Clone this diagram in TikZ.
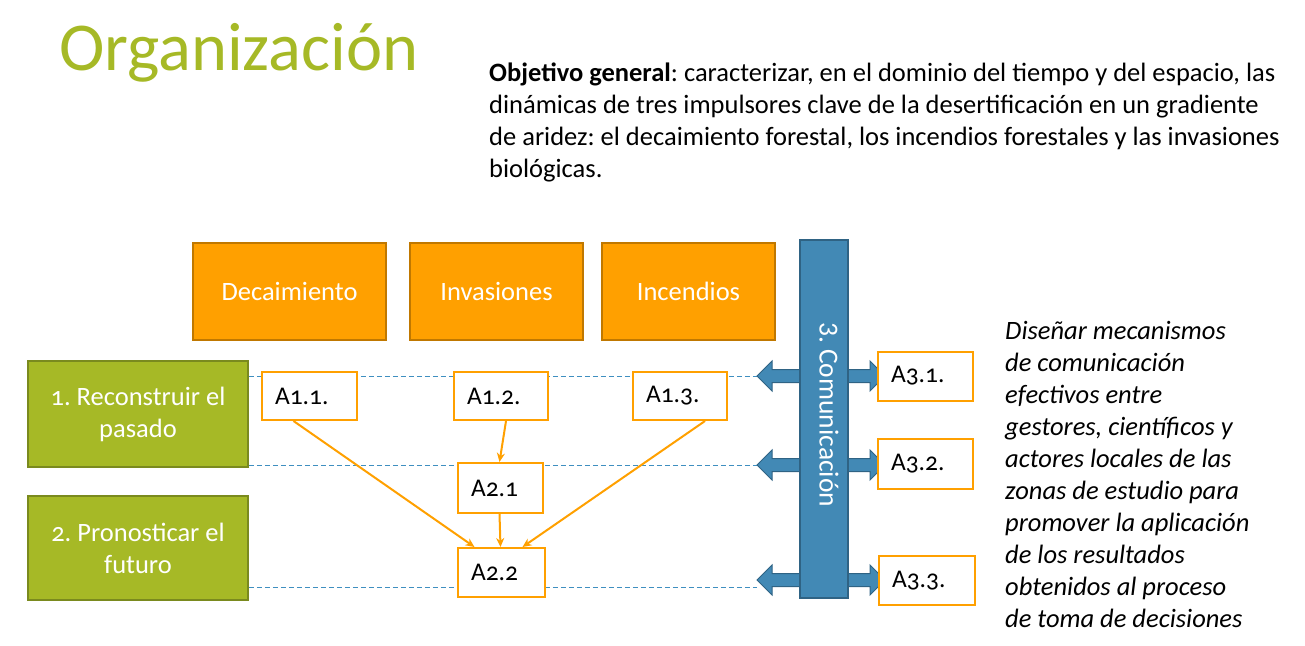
\documentclass[tikz,border=0pt]{standalone}
\usepackage{fontspec}
\setmainfont{Carlito}[Numbers=OldStyle]
\newfontfamily\plainfont{Carlito}
\usetikzlibrary{arrows.meta}
\frenchspacing

\definecolor{titlegreen}{HTML}{A6B926}
\definecolor{boxgreen}{HTML}{A6B926}
\definecolor{boxgreenline}{HTML}{7A8A1E}
\definecolor{boxorange}{HTML}{FFA000}
\definecolor{boxorangeline}{HTML}{C07800}
\definecolor{barblue}{HTML}{4289B5}
\definecolor{barblueline}{HTML}{2F6384}
\definecolor{dashblue}{HTML}{3F8FC0}

\tikzset{
  theme/.style={draw=boxorangeline, fill=boxorange, line width=1.5pt, text=white,
    font=\fontsize{26.5}{30}\selectfont, inner sep=0pt},
  phase/.style={draw=boxgreenline, fill=boxgreen, line width=1.5pt, text=white,
    font=\fontsize{26.5}{32}\selectfont, align=center, inner sep=0pt,
    minimum width=220pt},
  task/.style={draw=boxorange, fill=white, line width=2pt, text=black,
    font=\fontsize{25.5}{28}\selectfont, inner xsep=13pt, inner ysep=0pt,
    align=left, minimum height=48pt},
  flow/.style={draw=boxorange, line width=2pt, -{Stealth[length=9pt,width=8pt]}},
  guide/.style={draw=dashblue, line width=0.8pt, dash pattern=on 5pt off 3pt},
  twoway/.style={draw=barblueline, fill=barblue, line width=1pt},
}

\begin{document}
\begin{tikzpicture}[x=1pt,y=-1pt]
\useasboundingbox (0,0) rectangle (1305,645);

% title and objective (base anchor = baseline of the last line)
\node[anchor=base west, inner sep=0pt, text=titlegreen,
      font=\fontsize{68.5}{75}\selectfont] (title) at (59,70) {Organización};
\node[anchor=base west, inner sep=0pt, align=left,
      font=\fontsize{26.5}{32}\selectfont] (goal) at (489,177)
  {\textbf{Objetivo general}: caracterizar, en el dominio del tiempo y del espacio, las\\
   dinámicas de tres impulsores clave de la desertificación en un gradiente\\
   de aridez: el decaimiento forestal, los incendios forestales y las invasiones\\
   biológicas.};

% themes
\node[theme, minimum width=193pt, minimum height=97pt] (dec) at (289.5,291.5) {Decaimiento};
\node[theme, minimum width=173pt, minimum height=97pt] (inv) at (496.5,291.5) {Invasiones};
\node[theme, minimum width=173pt, minimum height=97pt] (inc) at (688.5,291.5) {Incendios};

% phases
\node[phase, minimum height=106pt] (g1) at (138,414) {1. Reconstruir el\\pasado};
\node[phase, minimum height=104pt] (g2) at (138,548) {2. Pronosticar el\\futuro};

% guide lines towards the communication bar
\coordinate (r1) at (757,376);
\coordinate (r2) at (757,465);
\coordinate (r3) at (757,587);
\draw[guide] (g1.east |- r1) -- (r1);
\draw[guide] (g1.east |- r2) -- (r2);
\draw[guide] (g2.east |- r3) -- (r3);

% two-way arrows through the bar
\foreach \yy in {376,465,580}{
  \draw[twoway] (757,\yy) -- (772,\yy-15) -- (772,\yy-6.5) -- (870,\yy-6.5)
    -- (870,\yy-15) -- (885,\yy) -- (870,\yy+15) -- (870,\yy+6.5)
    -- (772,\yy+6.5) -- (772,\yy+15) -- cycle;
}

% communication bar
\node[draw=barblueline, fill=barblue, line width=1.5pt, minimum width=48pt,
      minimum height=358pt, inner sep=0pt] (bar) at (824,419) {};
\node[rotate=-90, text=white, font=\fontsize{27.5}{30}\selectfont, inner sep=0pt,
      anchor=west] (barlabel) at (829,322) {\plainfont 3. Comunicación};

% tasks
\node[task, minimum width=95pt, text width=69pt] (a11) at (309.5,396) {A1.1.};
\node[task, minimum width=94pt, text width=68pt] (a12) at (501,396) {A1.2.};
\node[task, minimum width=94pt, text width=68pt] (a13) at (680,396) {A1.3.};
\node[task, minimum width=85pt, text width=59pt, minimum height=50pt] (a21) at (500.5,488) {A2.1};
\node[task, minimum width=87pt, text width=61pt, minimum height=49pt] (a22) at (501.5,572.5) {A2.2};
\node[task, minimum width=95pt, text width=69pt, minimum height=49pt] (a31) at (925.5,376) {A3.1.};
\node[task, minimum width=95pt, text width=69pt, minimum height=50pt] (a32) at (925.5,464) {A3.2.};
\node[task, minimum width=96pt, text width=70pt, minimum height=49pt] (a33) at (927,580.5) {A3.3.};

% dependencies
\draw[flow] ([xshift=-16pt]a11.south) -- ([xshift=-27pt]a22.north);
\draw[flow] ([xshift=5pt]a12.south) -- ([xshift=-1pt]a21.north);
\draw[flow] ([xshift=-1pt]a21.south) -- ([xshift=-1pt]a22.north);
\draw[flow] ([xshift=25pt]a13.south) -- ([xshift=21pt]a22.north);

% aim of the communication block
\node[anchor=base west, inner sep=0pt, align=left,
      font=\fontsize{26.5}{32}\selectfont\itshape] (aim) at (1005,627)
  {Diseñar mecanismos\\
   de comunicación\\
   efectivos entre\\
   gestores, científicos y\\
   actores locales de las\\
   zonas de estudio para\\
   promover la aplicación\\
   de los resultados\\
   obtenidos al proceso\\
   de toma de decisiones};
\end{tikzpicture}
\end{document}
